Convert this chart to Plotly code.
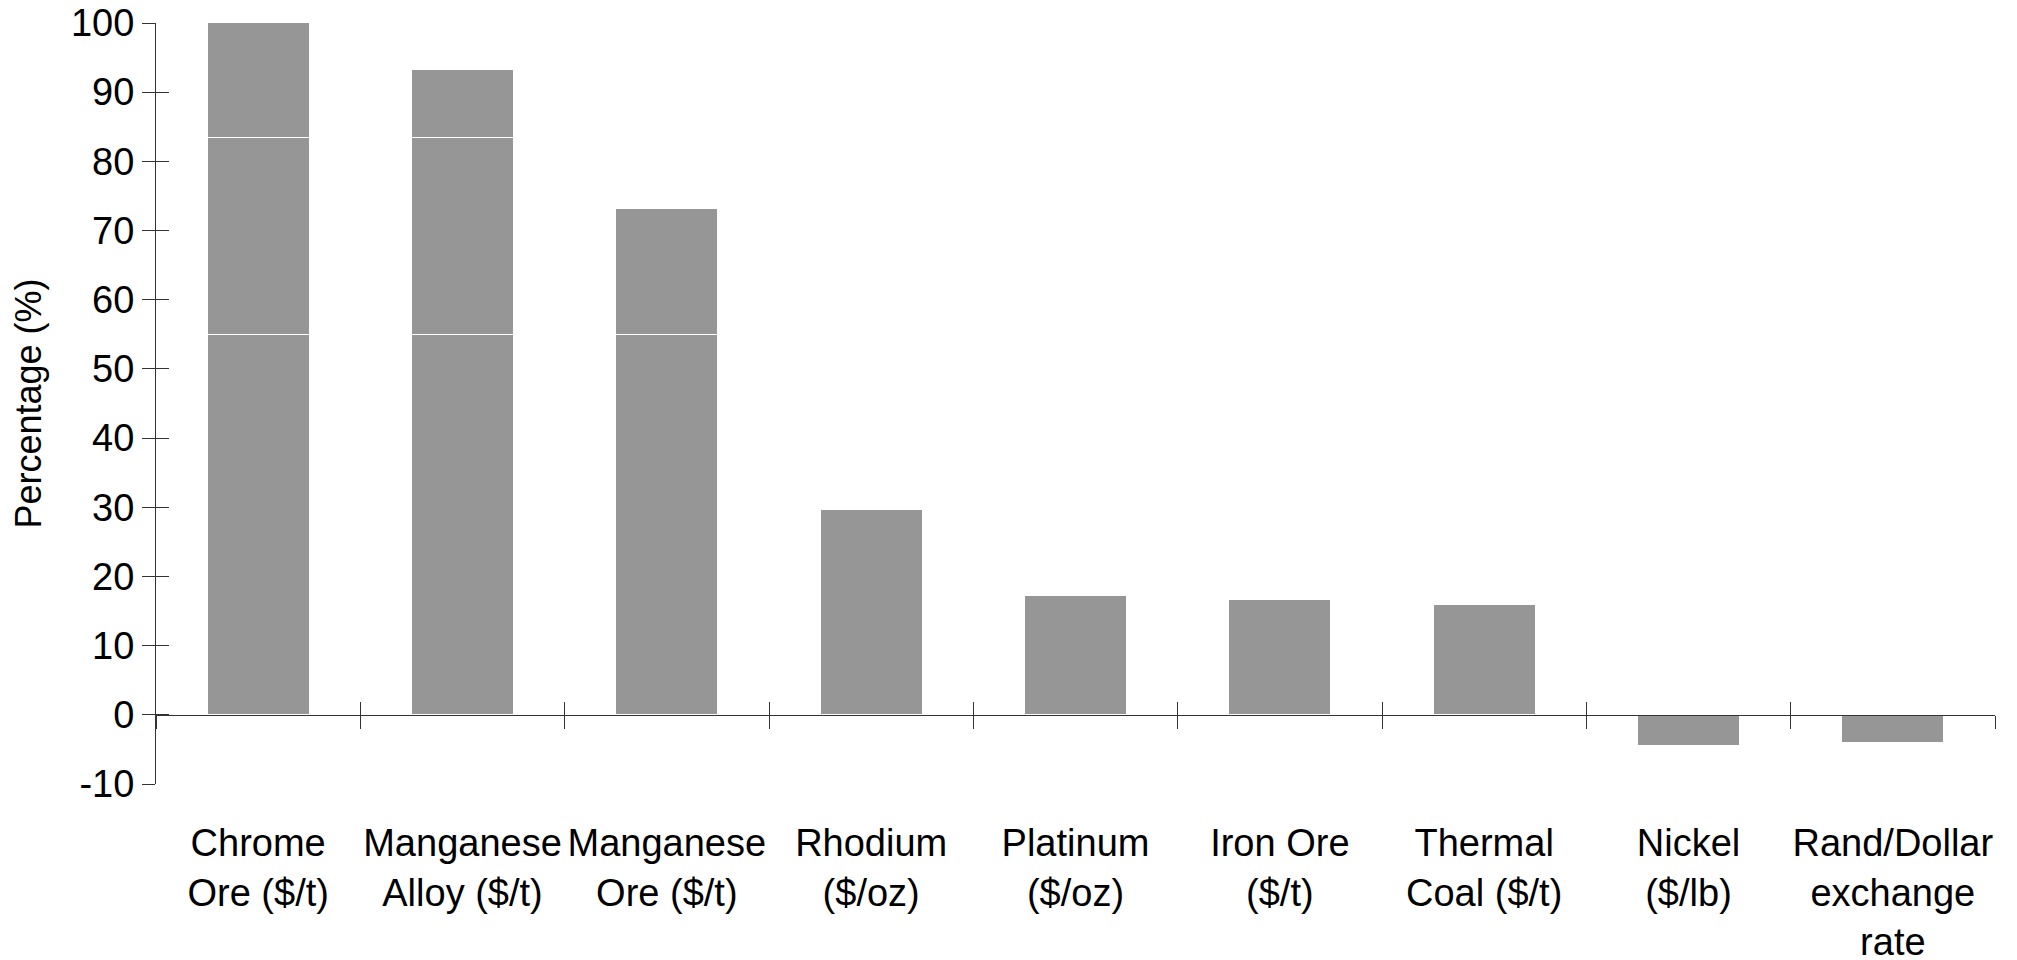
import plotly.graph_objects as go

# ---- data ----
categories = [
    "Chrome<br>Ore ($/t)",
    "Manganese<br>Alloy ($/t)",
    "Manganese<br>Ore ($/t)",
    "Rhodium<br>($/oz)",
    "Platinum<br>($/oz)",
    "Iron Ore<br>($/t)",
    "Thermal<br>Coal ($/t)",
    "Nickel<br>($/lb)",
    "Rand/Dollar<br>exchange<br>rate",
]
values = [100.4, 93.3, 73.2, 29.7, 17.3, 16.7, 16.0, -4.5, -4.05]
y_tick_values = list(range(-10, 101, 10))
y_tick_text = [str(v) for v in y_tick_values]
y_title = "Percentage (%)"
# thin white seams visible inside the tallest bars of the reference image
seam_levels = [55, 83.5]

# ---- style ----
FONT = "Liberation Sans, Arial, sans-serif"
FS = 38
BAR = "#969696"
AX = "#333333"
Y_MIN, Y_MAX = y_tick_values[0], y_tick_values[-1]
zero_pos = (0 - Y_MIN) / (Y_MAX - Y_MIN)

# split every bar into stacked pieces at the seam levels
levels = [0] + seam_levels + [None]
pieces = []
for i in range(len(levels) - 1):
    lo, hi = levels[i], levels[i + 1]
    seg = []
    for v in values:
        if v < 0:
            seg.append(v if i == 0 else 0)
        else:
            top = v if hi is None else min(v, hi)
            seg.append(max(top - lo, 0))
    pieces.append(seg)

fig = go.Figure()
for seg in pieces:
    fig.add_trace(go.Bar(
        x=categories, y=seg,
        marker=dict(color=BAR, line=dict(color="white", width=1)),
        showlegend=False, hoverinfo="skip",
    ))

# invisible helper trace so the overlay axes (inside tick marks) are drawn
fig.add_trace(go.Scatter(x=categories, y=values, xaxis="x2", yaxis="y2",
                         mode="none", showlegend=False, hoverinfo="skip"))

common_x = dict(
    type="category", categoryorder="array", categoryarray=categories,
    range=[-0.5, len(categories) - 0.5], tickson="boundaries",
    showgrid=False, zeroline=False, showline=True, linecolor=AX, linewidth=1,
    tickcolor=AX, tickwidth=1, ticklen=13, anchor="free", position=zero_pos,
    tickangle=0, automargin=False, ticklabeloverflow="allow",
)
common_y = dict(
    range=[Y_MIN, Y_MAX], tickmode="array", tickvals=y_tick_values,
    ticktext=y_tick_text,
    showgrid=False, zeroline=False, showline=True, linecolor=AX, linewidth=1,
    tickcolor=AX, tickwidth=1, ticklen=13, automargin=False,
    ticklabeloverflow="allow",
)

fig.update_layout(
    width=2017, height=960,
    margin=dict(l=148, r=30, t=15, b=184),
    paper_bgcolor="white", plot_bgcolor="white",
    barmode="stack", bargap=0.5,
    font=dict(family=FONT, size=FS, color="black"),
    xaxis=dict(**common_x, ticks="outside", ticklabelstandoff=95,
               tickfont=dict(family=FONT, size=FS, color="black")),
    xaxis2=dict(**common_x, ticks="inside", overlaying="x",
                showticklabels=False),
    yaxis=dict(**common_y, ticks="outside",
               tickfont=dict(family=FONT, size=FS, color="black"),
               title=dict(text=y_title, standoff=28,
                          font=dict(family=FONT, size=36, color="black"))),
    yaxis2=dict(**common_y, ticks="inside", overlaying="y", anchor="x2",
                showticklabels=False),
)

fig.write_html("out.html")
